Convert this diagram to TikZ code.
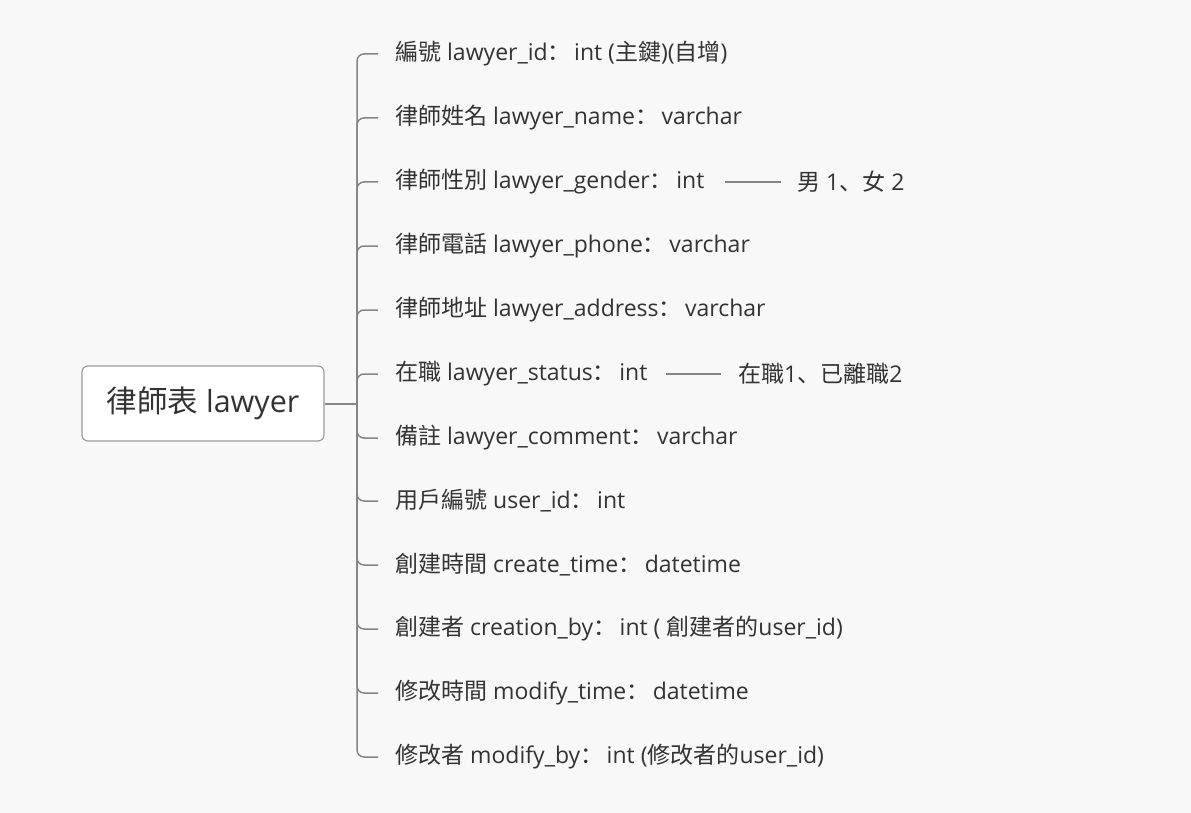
\documentclass[tikz,border=0pt]{standalone}
\usepackage{fontspec}
\setmainfont{Open Sans}
\newfontfamily\cjk{Noto Sans CJK TC}
\newfontfamily\cjkpunct{Noto Sans CJK SC}
\newcommand{\fcolon}{{\cjkpunct ：}\kern0.15em}
\newcommand{\fcomma}{{\cjkpunct 、}}
\usepackage{tikz}

\definecolor{bg}{HTML}{F8F8F8}
\definecolor{wire}{HTML}{858585}
\definecolor{ink}{HTML}{333333}

\tikzset{
    field/.style={anchor=west, inner sep=0pt, text=ink, font=\fontsize{23}{25}\selectfont},
    branch/.style={draw=wire, line width=1.5pt, rounded corners=7pt},
}

\begin{document}
\begin{tikzpicture}[x=1pt, y=-1pt]
                \fill[bg] (0,0) rectangle (1191,813);
                \useasboundingbox (0,0) rectangle (1191,813);
                \node[draw=wire!80, fill=white, rounded corners=6pt, line width=1.2pt,
                      minimum width=242pt, minimum height=75pt, text=ink,
                      font=\fontsize{30.5}{32}\selectfont] (table) at (203,403.5) {{\cjk 律師表} lawyer};
                \coordinate (hub) at (357,403.5);
                \draw[draw=wire, line width=2pt] (table.east) -- (hub);
                \node[field] (id) at (395,54) {{\cjk 編號} lawyer\_id\fcolon int ({\cjk 主鍵})({\cjk 自增})};
                \node[field] (name) at (395,118) {{\cjk 律師姓名} lawyer\_name\fcolon varchar};
                \node[field] (gender) at (395,182) {{\cjk 律師性別} lawyer\_gender\fcolon int};
                \node[field] (genderval) at (797,182) {{\cjk 男} 1\fcomma{\cjk 女} 2};
                \node[field] (phone) at (395,246) {{\cjk 律師電話} lawyer\_phone\fcolon varchar};
                \node[field] (address) at (395,310) {{\cjk 律師地址} lawyer\_address\fcolon varchar};
                \node[field] (status) at (395,374) {{\cjk 在職} lawyer\_status\fcolon int};
                \node[field] (statusval) at (738,374) {{\cjk 在職}1\fcomma{\cjk 已離職}2};
                \node[field] (comment) at (395,438) {{\cjk 備註} lawyer\_comment\fcolon varchar};
                \node[field] (user) at (395,501) {{\cjk 用戶編號} user\_id\fcolon int};
                \node[field] (ctime) at (395,565) {{\cjk 創建時間} create\_time\fcolon datetime};
                \node[field] (cby) at (395,629) {{\cjk 創建者} creation\_by\fcolon int ( {\cjk 創建者的}user\_id)};
                \node[field] (mtime) at (395,693) {{\cjk 修改時間} modify\_time\fcolon datetime};
                \node[field] (mby) at (395,757) {{\cjk 修改者} modify\_by\fcolon int ({\cjk 修改者的}user\_id)};
                % bracket from the hub to every field
                \foreach \f in {id,name,gender,phone,address,status,comment,user,ctime,mtime,cby,mby}
                    \draw[branch] (hub) -- (hub |- \f.west) -- ([xshift=-17pt]\f.west);
                \draw[draw=wire, line width=1.5pt] ([xshift=-72pt]genderval.west) -- ([xshift=-16pt]genderval.west);
                \draw[draw=wire, line width=1.5pt] ([xshift=-72pt]statusval.west) -- ([xshift=-17pt]statusval.west);
            \end{tikzpicture}
\end{document}
